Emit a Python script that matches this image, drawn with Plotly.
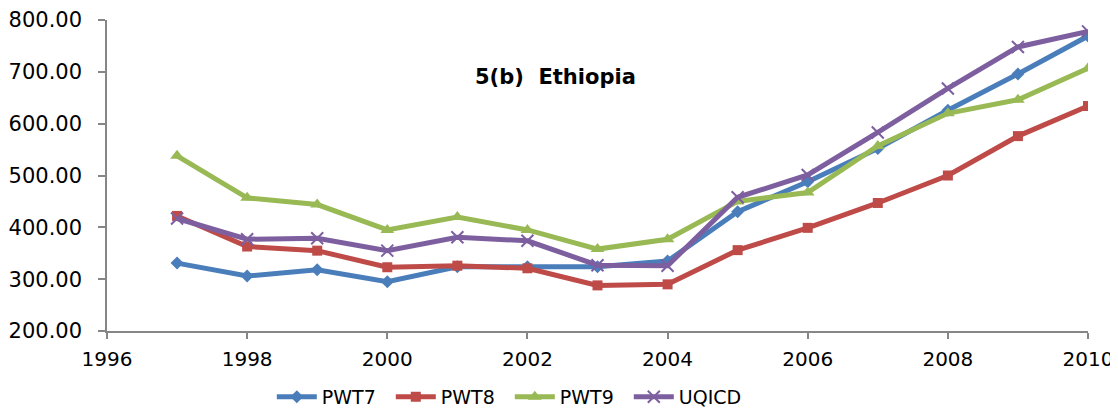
import plotly.graph_objects as go

years = list(range(1997, 2011))
pwt7 = [331, 306, 318, 295, 324, 324, 324, 335, 430, 488, 552, 626, 696, 769]
pwt8 = [422, 363, 355, 323, 326, 321, 288, 290, 356, 399, 447, 500, 576, 634]
pwt9 = [538, 457, 444, 395, 420, 395, 358, 377, 450, 467, 557, 620, 646, 707]
uqicd = [417, 377, 379, 355, 381, 374, 327, 326, 458, 501, 583, 668, 748, 778]

series = [
    ("PWT7", pwt7, "#4A7EBB", "diamond", 10),
    ("PWT8", pwt8, "#BE4B48", "square", 10),
    ("PWT9", pwt9, "#98B954", "triangle-up", 12),
    ("UQICD", uqicd, "#7D5FA0", "x-thin", 12),
]

fig = go.Figure()
for name, vals, col, sym, sz in series:
    fig.add_trace(go.Scatter(
        x=years, y=vals, name=name, mode="lines+markers",
        line=dict(color=col, width=5),
        marker=dict(symbol=sym, size=sz, color=col,
                    line=dict(color=col, width=2 if sym == "x-thin" else 0)),
    ))

font_main = "DejaVu Sans, Verdana, sans-serif"
fig.update_layout(
    width=1120, height=425,
    margin=dict(l=99, r=40, t=12, b=102),
    paper_bgcolor="white", plot_bgcolor="white",
    font=dict(family=font_main, size=21, color="black"),
    showlegend=True,
    legend=dict(orientation="h", x=0.168, xanchor="left", y=-0.212, yanchor="middle",
                font=dict(size=19), itemwidth=40, tracegroupgap=0,
                entrywidth=64, entrywidthmode="pixels",
                bgcolor="rgba(0,0,0,0)"),
    annotations=[dict(text="<b>5(b)  Ethiopia</b>", x=0.457, y=0.862, xref="paper", yref="paper",
                      showarrow=False, font=dict(family=font_main, size=21, color="black"))],
)
fig.update_xaxes(range=[1996, 2010], dtick=2, tick0=1996, showgrid=False, zeroline=False,
                 showline=True, linecolor="#868686", linewidth=1.5, automargin=False,
                 ticks="outside", ticklen=6, tickcolor="#868686", tickwidth=1.5,
                 ticklabelstandoff=3, tickfont=dict(size=20))
fig.update_yaxes(range=[200, 800], dtick=100, tickformat=".2f", showgrid=False, zeroline=False,
                 showline=True, linecolor="#868686", linewidth=1.5, automargin=False,
                 ticks="outside", ticklen=7, tickcolor="#868686", tickwidth=1.5,
                 ticklabelstandoff=12)

fig.write_html("out.html")
